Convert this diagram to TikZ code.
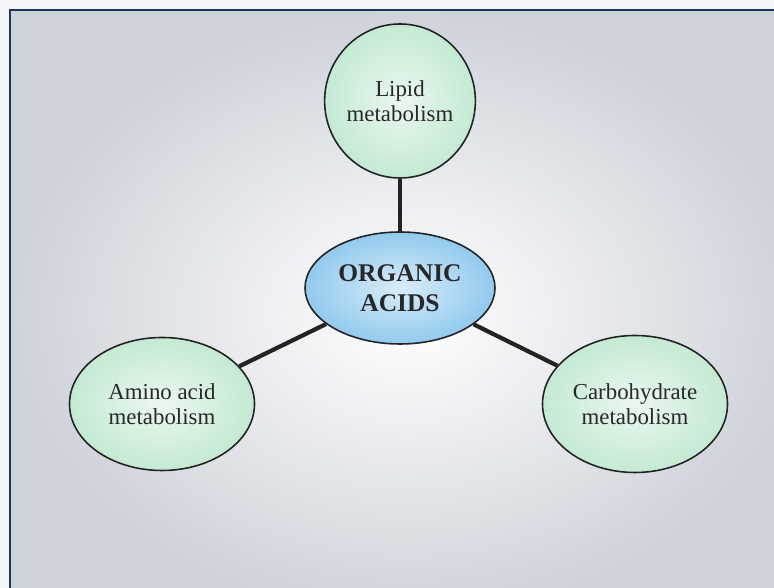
\documentclass[tikz,border=0pt]{standalone}
\usepackage{fontspec}
\setmainfont{Liberation Serif}
\usepackage{tikz}
\usetikzlibrary{shapes.geometric,positioning}
\usepackage{xcolor}
\definecolor{oaframe}{RGB}{30,55,90}
\definecolor{oapaper}{RGB}{244,245,247}
\definecolor{oagray}{RGB}{206,210,217}
\definecolor{oagreen}{RGB}{196,234,210}
\definecolor{oablue}{RGB}{145,202,238}
\definecolor{oaline}{RGB}{35,35,35}
\definecolor{oatext}{RGB}{40,40,40}
\tikzstyle{pathway} = [ellipse, draw=oaline, line width=0.9pt, inner color=oagreen!35!white, outer color=oagreen, text=oatext, align=center, font=\fontsize{13}{14}\selectfont, inner sep=0pt]
\tikzstyle{hub} = [ellipse, draw=oaline, line width=0.9pt, inner color=oablue!35!white, outer color=oablue, text=oatext, align=center, font=\fontsize{14.5}{17}\selectfont\bfseries, inner sep=0pt]
\tikzstyle{link} = [line width=2.4pt, color=oaline]

\begin{document}
\begin{tikzpicture}
% Page and frame
\fill[oapaper] (0,0) rectangle (15.48,11.76);
\useasboundingbox (0,0) rectangle (15.48,11.76);
\shade[inner color=white, outer color=oagray] (0.2,-0.6) rectangle (16.1,11.56);
\draw[oaframe, line width=1.3pt] (16.1,11.56) -- (0.2,11.56) -- (0.2,-0.6);

% Nodes
\node[hub, minimum width=3.8cm, minimum height=2.24cm] (acids) at (8.0,6.0) {ORGANIC\\ACIDS};
\node[pathway, minimum width=2.9cm, minimum height=3.08cm] (lipid) at (8.0,9.74) {Lipid\\metabolism};
\node[pathway, minimum width=3.7cm, minimum height=2.66cm] (amino) at (3.24,3.68) {Amino acid\\metabolism};
\node[pathway, minimum width=3.7cm, minimum height=2.74cm] (carbo) at (12.7,3.68) {Carbohydrate\\metabolism};

% Connectors
\draw[link] (lipid) -- (acids);
\draw[link] (acids) -- (amino);
\draw[link] (acids) -- (carbo);
\end{tikzpicture}
\end{document}
